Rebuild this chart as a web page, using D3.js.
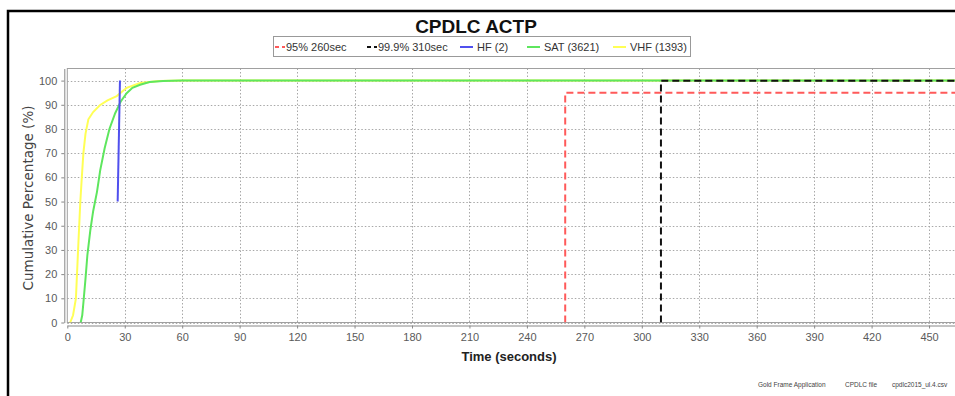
<!DOCTYPE html>
<html>
<head>
<meta charset="utf-8">
<script src="https://cdn.jsdelivr.net/npm/d3@7/dist/d3.min.js"></script>
<style>
  html, body { margin: 0; padding: 0; background: #fff; }
  svg { display: block; font-family: "Liberation Sans", Arial, sans-serif; }
</style>
</head>
<body>
<svg id="chart" width="955" height="396"></svg>
<script>
// Cumulative response-time curves per media type (time in seconds, cumulative %)
const vhfTime = [1.5, 3, 4.5, 5.8, 6.8, 7.5, 8.4, 9.5, 11, 13.5, 17, 21, 25.8, 31, 38, 48, 60, 500];
const vhfPct  = [0, 3, 10, 33, 50, 59, 70, 78, 84, 87, 89.8, 91.8, 93.6, 97, 99, 99.8, 100, 100];

const satTime = [7, 7.8, 8.5, 9.5, 10.5, 12, 13.5, 15.5, 17.2, 19.5, 22, 25, 28, 31, 34, 38, 43, 50, 60, 500];
const satPct  = [0, 3, 9, 18, 28, 38, 46, 54, 63, 72, 80, 86.5, 91.5, 94.8, 97, 98.3, 99.4, 99.8, 100, 100];

const hfTime = [26.3, 27.5];
const hfPct  = [50, 100];

// Percentile reference thresholds
const p95Time = 260, p95Pct = 95;
const p999Time = 310, p999Pct = 99.9;

const xTicks = [0, 30, 60, 90, 120, 150, 180, 210, 240, 270, 300, 330, 360, 390, 420, 450];
const yTicks = [0, 10, 20, 30, 40, 50, 60, 70, 80, 90, 100];

const legendItems = [
  { label: "95% 260sec",   color: "#ff5a5a", dash: "5,3" },
  { label: "99.9% 310sec", color: "#111111", dash: "5,3" },
  { label: "HF (2)",       color: "#5050ee", dash: null },
  { label: "SAT (3621)",   color: "#5ee65e", dash: null },
  { label: "VHF (1393)",   color: "#ffff55", dash: null }
];

const svg = d3.select("#chart");

// outer frame
svg.append("rect")
  .attr("x", 8).attr("y", 11).attr("width", 1000).attr("height", 500)
  .attr("fill", "none").attr("stroke", "#000").attr("stroke-width", 2.5);

const plot = { left: 67.3, top: 68.5, bottom: 322.5 };
const x = d3.scaleLinear().domain([0, 480]).range([plot.left, plot.left + 480 * 1.915]);
const y = d3.scaleLinear().domain([0, 105]).range([plot.bottom, plot.top]);

// title
svg.append("text")
  .attr("x", 476).attr("y", 33)
  .attr("text-anchor", "middle")
  .attr("font-size", 19).attr("font-weight", "bold").attr("fill", "#111")
  .text("CPDLC ACTP");

// grid (one extra vertical line past the last labelled tick)
const grid = svg.append("g").attr("stroke", "#a8a8a8").attr("stroke-width", 1).attr("stroke-dasharray", "1.5,2");
grid.selectAll("line.v").data(xTicks.filter(d => d > 0).concat([480])).join("line")
  .attr("x1", d => Math.round(x(d)) + 0.5).attr("x2", d => Math.round(x(d)) + 0.5)
  .attr("y1", plot.top).attr("y2", plot.bottom);
grid.selectAll("line.h").data(yTicks).join("line")
  .attr("x1", plot.left).attr("x2", 955)
  .attr("y1", d => Math.round(y(d)) + 0.5).attr("y2", d => Math.round(y(d)) + 0.5);

// plot outline
svg.append("rect")
  .attr("x", plot.left).attr("y", plot.top)
  .attr("width", 1000).attr("height", plot.bottom - plot.top)
  .attr("fill", "none").attr("stroke", "#a0a0a0").attr("stroke-width", 1);

// axes (offset from the plot area)
const xAxis = d3.axisBottom(x).tickValues(xTicks).tickSize(3).tickPadding(5).tickSizeOuter(0);
const gx = svg.append("g").attr("transform", `translate(0,${plot.bottom + 3})`).call(xAxis);
const yAxis = d3.axisLeft(y).tickValues(yTicks).tickSize(3).tickPadding(4).tickSizeOuter(0);
const gy = svg.append("g").attr("transform", `translate(${plot.left - 3},0)`).call(yAxis);
[gx, gy].forEach(g => {
  g.select(".domain").attr("stroke", "#888");
  g.selectAll(".tick line").attr("stroke", "#888");
  g.selectAll(".tick text").attr("fill", "#5a5a5a").attr("font-size", 11)
    .attr("font-family", "'Liberation Sans', Arial, sans-serif");
});

// axis titles
svg.append("text")
  .attr("x", 509).attr("y", 361)
  .attr("text-anchor", "middle").attr("font-size", 13).attr("font-weight", "bold").attr("fill", "#222")
  .text("Time (seconds)");
svg.append("text")
  .attr("transform", "translate(33,198) rotate(-90)")
  .attr("text-anchor", "middle").attr("font-size", 13.5).attr("fill", "#444")
  .attr("font-family", "'DejaVu Sans', sans-serif")
  .text("Cumulative Percentage (%)");

// clip to plot
svg.append("clipPath").attr("id", "plotclip")
  .append("rect").attr("x", plot.left).attr("y", plot.top - 2)
  .attr("width", 1000).attr("height", plot.bottom - plot.top + 2);
const marks = svg.append("g").attr("clip-path", "url(#plotclip)");

const line = d3.line().x(d => x(d[0])).y(d => y(d[1]));
const zip = (a, b) => a.map((v, i) => [v, b[i]]);

marks.append("path").datum(zip(vhfTime, vhfPct))
  .attr("d", line).attr("fill", "none").attr("stroke", legendItems[4].color).attr("stroke-width", 2);
marks.append("path").datum(zip(satTime, satPct))
  .attr("d", line).attr("fill", "none").attr("stroke", legendItems[3].color).attr("stroke-width", 2);
marks.append("path").datum(zip(hfTime, hfPct))
  .attr("d", line).attr("fill", "none").attr("stroke", legendItems[2].color).attr("stroke-width", 2);

// percentile step lines
[[p95Time, p95Pct, legendItems[0].color], [p999Time, p999Pct, legendItems[1].color]].forEach(([t, p, c]) => {
  marks.append("path").datum([[t, 0], [t, p], [600, p]])
    .attr("d", line).attr("fill", "none").attr("stroke", c)
    .attr("stroke-width", 2).attr("stroke-dasharray", "7,4");
});

// legend
const lg = svg.append("g");
lg.append("rect").attr("x", 273.5).attr("y", 36.5).attr("width", 417).attr("height", 20)
  .attr("fill", "#fff").attr("stroke", "#999");
const itemX = [275, 367, 460, 527, 613];
legendItems.forEach((it, i) => {
  const g = lg.append("g").attr("transform", `translate(${itemX[i]},47)`);
  g.append("line").attr("x1", 0).attr("x2", it.dash ? 10 : 13).attr("y1", 0).attr("y2", 0)
    .attr("stroke", it.color).attr("stroke-width", 2)
    .attr("stroke-dasharray", it.dash ? "4,3" : null);
  g.append("text").attr("x", it.dash ? 11 : 17).attr("y", 4)
    .attr("font-size", 11).attr("fill", "#333").text(it.label);
});

// footer
const footer = svg.append("g").attr("font-size", 6.5).attr("fill", "#444");
footer.append("text").attr("x", 758).attr("y", 387).text("Gold Frame Application");
footer.append("text").attr("x", 845).attr("y", 387).text("CPDLC file");
footer.append("text").attr("x", 892).attr("y", 387).text("cpdlc2015_ul.4.csv");
</script>
</body>
</html>
